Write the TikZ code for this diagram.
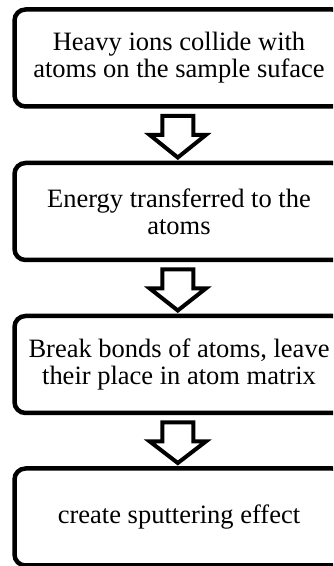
\documentclass[tikz,border=0pt]{standalone}
\usepackage{fontspec}
\setmainfont{Liberation Serif}
\usetikzlibrary{calc}
\tikzset{
  stepbox/.style={draw=black, line width=4.5pt, rounded corners=11pt,
    minimum width=329pt, minimum height=97pt, inner sep=0pt, outer sep=0pt,
    align=center, font=\fontsize{26.5}{27}\selectfont},
  blockarr/.style={draw=black, line width=4pt, fill=white, line join=miter}
}
\newcommand\blockarrow[2]{%
  \draw[blockarr] ($(#1.south)+(-1.2,-9.5)$) coordinate (t)
    ($(t)+(-15.5,0)$) -- ($(t)+(15.5,0)$) -- ($(t)+(15.5,-19)$) -- ($(t)+(28,-19)$)
    -- ($(#2.north)+(-1.2,5.5)$) -- ($(t)+(-28,-19)$) -- ($(t)+(-15.5,-19)$) -- cycle;}
\begin{document}
\begin{tikzpicture}[x=1pt,y=1pt]
\useasboundingbox (0,0) rectangle (333,566);
\begin{scope}
\clip (0,0) rectangle (333,566);
\node[stepbox] (b1) at (179,566-58) {Heavy ions collide with\\atoms on the sample suface};
\node[stepbox] (b2) at (179,566-211.5) {Energy transferred to the\\atoms};
\node[stepbox] (b3) at (179,566-364.5) {Break bonds of atoms, leave\\their place in atom matrix};
\node[stepbox] (b4) at (179,566-517) {create sputtering effect};
\blockarrow{b1}{b2}
\blockarrow{b2}{b3}
\blockarrow{b3}{b4}
\end{scope}
\end{tikzpicture}
\end{document}
